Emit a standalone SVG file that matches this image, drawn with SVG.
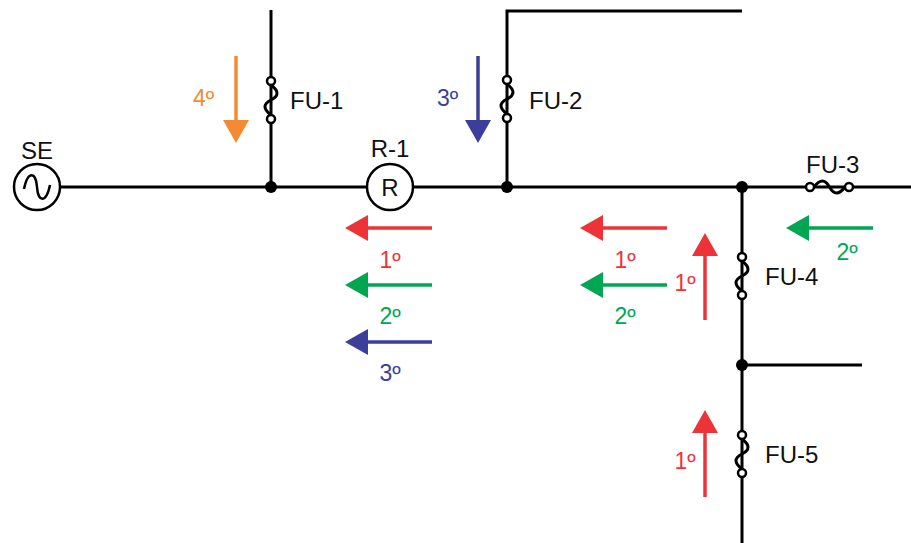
<svg xmlns="http://www.w3.org/2000/svg" width="911" height="543" viewBox="0 0 911 543">
<defs>
<style>
.w{stroke:#000;stroke-width:3;fill:none}
.c{stroke:#000;stroke-width:2.5;fill:#fff}
.t{font-family:"Liberation Sans",Arial,sans-serif;font-size:24px;fill:#111}
.n{font-family:"Liberation Sans",Arial,sans-serif;font-size:23px}
.red{fill:#ED3338}.grn{fill:#00A651}.blu{fill:#3B3F99}.org{fill:#F58A33}
.sr{stroke:#ED3338}.sg{stroke:#00A651}.sb{stroke:#3B3F99}.so{stroke:#F58A33}
.a{stroke-width:3.5;fill:none}
</style>
<g id="fuseV"><circle cx="0" cy="-19" r="4" class="c"/><circle cx="0" cy="19" r="4" class="c"/><path class="w" d="M0,-15 C8,-9 8,-4 0,0 C-8,4 -8,9 0,15" stroke-width="2.5"/></g>
</defs>
<g id="connectors">
<line class="w" x1="60" y1="187" x2="367" y2="187"/>
<line class="w" x1="413" y1="187" x2="911" y2="187"/>
<line class="w" x1="271" y1="10" x2="271" y2="187"/>
<polyline class="w" points="507,187 507,11 742,11"/>
<line class="w" x1="742" y1="187" x2="742" y2="543"/>
<line class="w" x1="742" y1="365" x2="862" y2="365"/>
<circle cx="271" cy="187" r="6"/>
<circle cx="507" cy="187" r="6"/>
<circle cx="742" cy="187" r="6"/>
<circle cx="742" cy="365" r="6"/>
</g>
<g id="SE">
<circle cx="37" cy="187" r="23" class="c" stroke-width="3"/>
<path d="M24,189 C28,170 36,172 37,187 C38,202 46,204 50,185" fill="none" stroke="#000" stroke-width="2.5"/>
<text class="t" x="37" y="159" text-anchor="middle">SE</text>
</g>
<g id="R-1">
<circle cx="390" cy="187" r="23" class="c" stroke-width="3"/>
<text class="t" x="390" y="196" text-anchor="middle">R</text>
<text class="t" x="390" y="157" text-anchor="middle">R-1</text>
</g>
<g id="FU-1"><use href="#fuseV" x="271" y="100"/><text class="t" x="290" y="109">FU-1</text></g>
<g id="FU-2"><use href="#fuseV" x="507" y="99"/><text class="t" x="529" y="109">FU-2</text></g>
<g id="FU-3">
<circle cx="810" cy="187" r="4" class="c"/><circle cx="849" cy="187" r="4" class="c"/>
<path class="w" stroke-width="2.5" d="M814,187 C820,179 825,179 829.5,187 C834,195 839,195 845,187"/>
<text class="t" x="806" y="173">FU-3</text>
</g>
<g id="FU-4"><use href="#fuseV" x="742" y="276"/><text class="t" x="765" y="285">FU-4</text></g>
<g id="FU-5"><use href="#fuseV" x="742" y="454"/><text class="t" x="765" y="463">FU-5</text></g>
<g id="arrows">
<line class="a so" x1="236" y1="56" x2="236" y2="122"/><polygon class="org" points="223,120 249,120 236,143"/>
<text class="n org" x="193" y="106">4º</text>
<line class="a sb" x1="478" y1="56" x2="478" y2="122"/><polygon class="blu" points="465,120 491,120 478,143"/>
<text class="n blu" x="437" y="106">3º</text>
<line class="a sr" x1="432" y1="228" x2="365" y2="228"/><polygon class="red" points="345,228 368,215 368,241"/>
<text class="n red" x="390" y="268" text-anchor="middle">1º</text>
<line class="a sg" x1="432" y1="285" x2="365" y2="285"/><polygon class="grn" points="345,285 368,272 368,298"/>
<text class="n grn" x="390" y="324" text-anchor="middle">2º</text>
<line class="a sb" x1="432" y1="342" x2="365" y2="342"/><polygon class="blu" points="345,342 368,329 368,355"/>
<text class="n blu" x="390" y="381" text-anchor="middle">3º</text>
<line class="a sr" x1="667" y1="228" x2="600" y2="228"/><polygon class="red" points="580,228 603,215 603,241"/>
<text class="n red" x="625" y="268" text-anchor="middle">1º</text>
<line class="a sg" x1="667" y1="285" x2="600" y2="285"/><polygon class="grn" points="580,285 603,272 603,298"/>
<text class="n grn" x="625" y="324" text-anchor="middle">2º</text>
<line class="a sg" x1="873" y1="228" x2="806" y2="228"/><polygon class="grn" points="786,228 809,215 809,241"/>
<text class="n grn" x="847" y="260" text-anchor="middle">2º</text>
<line class="a sr" x1="705" y1="320" x2="705" y2="254"/><polygon class="red" points="705,233 692,256 718,256"/>
<text class="n red" x="685" y="291" text-anchor="middle">1º</text>
<line class="a sr" x1="705" y1="497" x2="705" y2="431"/><polygon class="red" points="705,410 692,433 718,433"/>
<text class="n red" x="685" y="469" text-anchor="middle">1º</text>
</g>
</svg>
